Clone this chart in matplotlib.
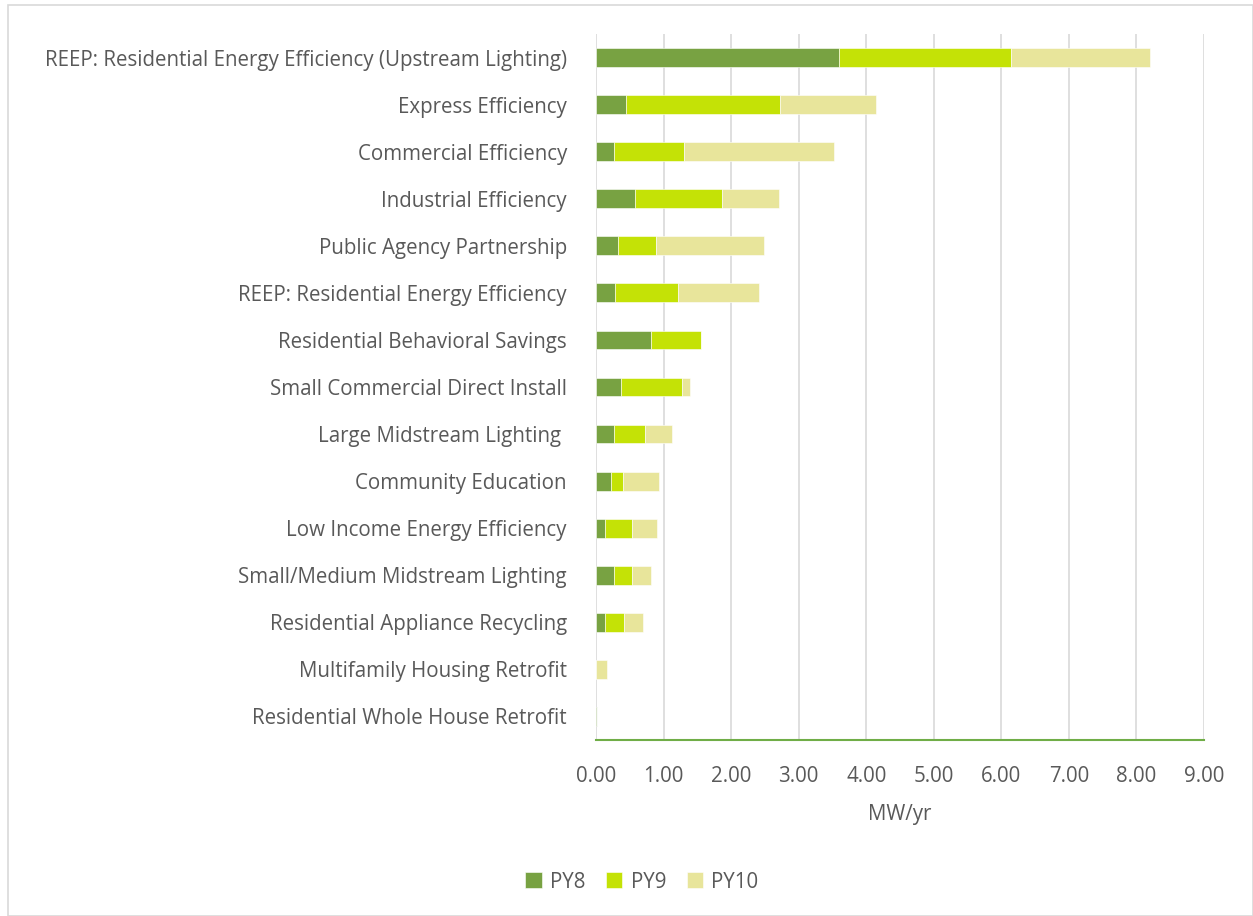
import numpy as np
import matplotlib.pyplot as plt
from matplotlib.patches import Rectangle

programs = [
    "REEP: Residential Energy Efficiency (Upstream Lighting)",
    "Express Efficiency",
    "Commercial Efficiency",
    "Industrial Efficiency",
    "Public Agency Partnership",
    "REEP: Residential Energy Efficiency",
    "Residential Behavioral Savings",
    "Small Commercial Direct Install",
    "Large Midstream Lighting ",
    "Community Education",
    "Low Income Energy Efficiency",
    "Small/Medium Midstream Lighting",
    "Residential Appliance Recycling",
    "Multifamily Housing Retrofit",
    "Residential Whole House Retrofit",
]
# MW/yr per program year
py8 = [3.59, 0.44, 0.26, 0.57, 0.32, 0.28, 0.81, 0.37, 0.26, 0.22, 0.14, 0.26, 0.13, 0.0, 0.01]
py9 = [2.55, 2.28, 1.04, 1.30, 0.57, 0.94, 0.75, 0.90, 0.46, 0.18, 0.39, 0.28, 0.28, 0.0, 0.0]
py10 = [2.06, 1.42, 2.22, 0.84, 1.60, 1.19, 0.0, 0.12, 0.41, 0.53, 0.38, 0.27, 0.29, 0.16, 0.01]
series = ["PY8", "PY9", "PY10"]
colors = ["#78A242", "#C4E206", "#E8E59B"]

grey = "#595959"
fs = 14.8
plt.rcParams["font.family"] = ["Open Sans", "DejaVu Sans"]

fig = plt.figure(figsize=(12.53, 9.16), dpi=100)
ax = fig.add_axes([596 / 1253, 1 - 740 / 916, 608 / 1253, 706 / 916])

y = np.arange(len(programs))
left = np.zeros(len(programs))
for name, vals, c in zip(series, [py8, py9, py10], colors):
    vals = np.array(vals)
    ax.barh(y, vals, left=left, height=0.4, color=c, label=name,
            edgecolor="white", linewidth=0.4, zorder=3)
    left += vals

ax.set_ylim(len(programs) - 0.5, -0.5)
ax.set_xlim(0, 9)
ax.set_xticks(np.arange(0, 10))
ax.set_xticklabels([f"{v:.2f}" for v in range(10)])
ax.set_yticks(y)
ax.set_yticklabels(programs)
ax.tick_params(axis="both", length=0, labelsize=fs, colors=grey)
ax.tick_params(axis="y", pad=21)
ax.tick_params(axis="x", pad=19)
ax.grid(axis="x", color="#D9D9D9", linewidth=1.2, zorder=0)
for s in ["top", "right", "left"]:
    ax.spines[s].set_visible(False)
ax.spines["bottom"].set_color("#70AD47")
ax.spines["bottom"].set_linewidth(1.5)
ax.spines["bottom"].set_zorder(4)
ax.set_xlabel("MW/yr", fontsize=fs, color=grey, labelpad=12)

leg = fig.legend(loc="center", bbox_to_anchor=(642 / 1253, 1 - 882 / 916), ncol=3,
                 frameon=False, fontsize=fs, handlelength=0.8, handleheight=0.8,
                 columnspacing=1.0, handletextpad=0.4)
for t in leg.get_texts():
    t.set_color(grey)

fig.patches.append(Rectangle((8 / 1253, 0), 1 - 8 / 1253, 1 - 5 / 916,
                             transform=fig.transFigure, fill=False,
                             edgecolor="#D9D9D9", linewidth=1.2))

fig.savefig("out.png", dpi=100)
